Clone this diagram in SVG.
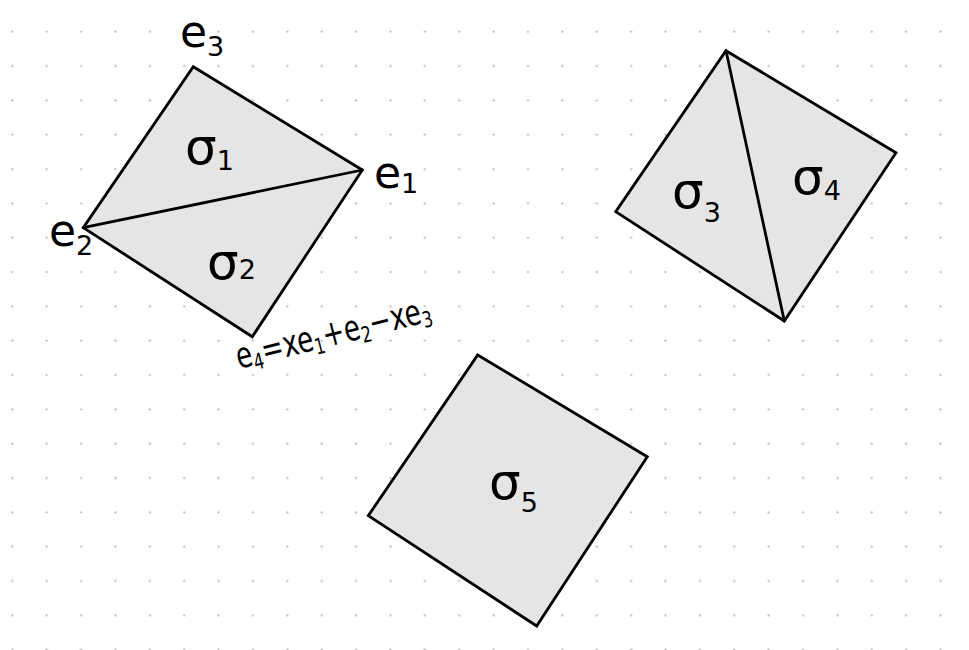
<svg xmlns="http://www.w3.org/2000/svg" width="969" height="650" viewBox="0 0 969 650">
<defs>
<pattern id="dots" x="-4.9" y="14.5" width="34.38" height="34.33" patternUnits="userSpaceOnUse">
<circle cx="17.19" cy="17.17" r="1.1" fill="#b0b0b0"/>
</pattern>
<style>
.face{fill:#e5e5e5;stroke:none}
.edge{fill:none;stroke:#000;stroke-width:2.8;stroke-linejoin:miter;stroke-linecap:round}
.lbl{font-family:"DejaVu Sans","Liberation Sans",sans-serif;fill:#000}
.sig{font-size:50px}
.sub{font-size:27px}
.e{font-size:44px}
</style>
</defs>
<rect width="969" height="650" fill="#fff"/>
<rect width="969" height="650" fill="url(#dots)"/>
<g id="left-complex">
<polygon class="face" points="193.3,66.7 362.3,170 252.3,336.7 83.3,227.7"/>
<polygon class="edge" points="193.3,66.7 362.3,170 252.3,336.7 83.3,227.7"/>
<line class="edge" x1="83.3" y1="227.7" x2="362.3" y2="170"/>
</g>
<g id="right-complex">
<polygon class="face" points="726,50.7 896,152.7 784.3,321 615.7,211.7"/>
<polygon class="edge" points="726,50.7 896,152.7 784.3,321 615.7,211.7"/>
<line class="edge" x1="726" y1="50.7" x2="784.3" y2="321"/>
</g>
<g id="bottom-square">
<polygon class="face" points="477.7,355 647.3,456.7 536.7,626 368.3,515.7"/>
<polygon class="edge" points="477.7,355 647.3,456.7 536.7,626 368.3,515.7"/>
</g>
<g id="labels" class="lbl">
<text x="180" y="47" class="e">e<tspan class="sub" dy="9">3</tspan></text>
<text x="374" y="188" class="e">e<tspan class="sub" dy="5">1</tspan></text>
<text x="49" y="246" class="e">e<tspan class="sub" dy="9">2</tspan></text>
<text x="185" y="164" class="sig">σ<tspan class="sub" dy="6">1</tspan></text>
<text x="207" y="279" class="sig">σ<tspan class="sub" dy="0">2</tspan></text>
<text x="672" y="208" class="sig">σ<tspan class="sub" dy="14">3</tspan></text>
<text x="792" y="194" class="sig">σ<tspan class="sub" dy="6">4</tspan></text>
<text x="489" y="499" class="sig">σ<tspan class="sub" dy="13">5</tspan></text>
<text x="239" y="369" font-size="36" textLength="200" lengthAdjust="spacingAndGlyphs" transform="rotate(-14 239 369)">e<tspan font-size="22" dy="5">4</tspan><tspan dy="-5">=xe</tspan><tspan font-size="22" dy="5">1</tspan><tspan dy="-5">+e</tspan><tspan font-size="22" dy="5">2</tspan><tspan dy="-5">−xe</tspan><tspan font-size="22" dy="5">3</tspan></text>
</g>
</svg>
